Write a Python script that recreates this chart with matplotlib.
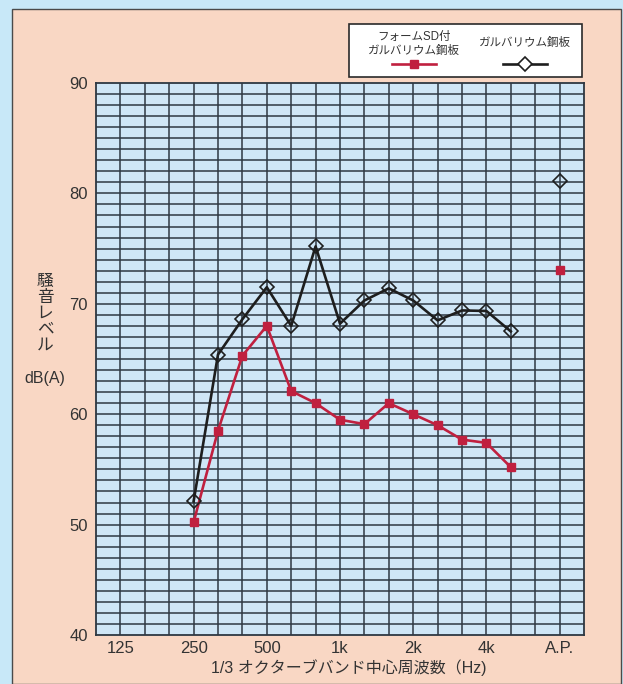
import matplotlib
matplotlib.use("Agg")
import matplotlib.pyplot as plt
from matplotlib.patches import Rectangle
from matplotlib.lines import Line2D

plt.rcParams['font.family'] = ['Liberation Sans', 'Noto Sans CJK JP', 'DejaVu Sans']

# 1/3 octave bands (100 Hz at left edge), A.P. = overall level
bands = ['100', '125', '160', '200', '250', '315', '400', '500', '630', '800',
         '1k', '1.25k', '1.6k', '2k', '2.5k', '3.15k', '4k', '5k', '6.3k', 'A.P.']
tick_labels = ['125', '250', '500', '1k', '2k', '4k', 'A.P.']

series_bands = ['250', '315', '400', '500', '630', '800', '1k', '1.25k',
                '1.6k', '2k', '2.5k', '3.15k', '4k', '5k']
foam_sd = [50.2, 58.5, 65.3, 68.0, 62.1, 61.0, 59.5, 59.1,
           61.0, 60.0, 59.0, 57.7, 57.4, 55.2]
galvalume = [52.1, 65.4, 68.6, 71.5, 68.0, 75.2, 68.2, 70.3,
             71.4, 70.3, 68.5, 69.4, 69.35, 67.5]
foam_sd_ap = 73.1
galvalume_ap = 81.1

labels = ['フォームSD付\nガルバリウム鋼板', 'ガルバリウム鋼板']

RED = '#c0203f'
BLACK = '#1e1e1e'
GRID = '#2e3842'
TXT = '#333333'

W, H = 623, 684
fig = plt.figure(figsize=(W / 100, H / 100), dpi=100)
fig.patch.set_facecolor('#c8e8f8')

# salmon panel
fig.patches.append(Rectangle((12 / W, 0), (621 - 12) / W, 1 - 9 / H,
                             transform=fig.transFigure, facecolor='#f9d7c4',
                             edgecolor='#4a4a4a', linewidth=1.0, zorder=-1))

ax = fig.add_axes([96 / W, 1 - 635 / H, 488 / W, 552 / H])
ax.set_zorder(1)
ax.set_facecolor('#cfe6f6')

pos = {b: i for i, b in enumerate(bands)}
xs = [pos[b] for b in series_bands]

ax.plot(xs, foam_sd, color=RED, lw=1.9, marker='s', ms=6, mec=RED, mfc=RED, zorder=4)
ax.plot([pos['A.P.']], [foam_sd_ap], ls='none', marker='s', ms=6, color=RED, zorder=4)
ax.plot(xs, galvalume, color=BLACK, lw=1.9, marker='D', ms=7.3, mec=BLACK,
        mfc='none', mew=1.2, zorder=5)
ax.plot([pos['A.P.']], [galvalume_ap], ls='none', marker='D', ms=7.3, mec=BLACK,
        mfc='none', mew=1.2, zorder=5)

ax.set_xlim(0, len(bands))
ax.set_ylim(40, 90)

# grid: every band and every 1 dB
for i in range(1, len(bands)):
    ax.axvline(i, color=GRID, lw=1.1, zorder=1)
for v in range(41, 90):
    ax.axhline(v, color=GRID, lw=1.1, zorder=1)

ax.set_xticks([pos[t] for t in tick_labels])
ax.set_xticklabels(tick_labels, fontsize=12, color=TXT)
ax.set_yticks(range(40, 91, 10))
ax.set_yticklabels([str(v) for v in range(40, 91, 10)], fontsize=12, color=TXT)
ax.tick_params(length=0, pad=6)
ax.tick_params(axis='x', pad=4)
for s in ax.spines.values():
    s.set_color(GRID)
    s.set_linewidth(1.3)

fig.text((206 + 492) / 2 / W, 1 - 668 / H, '1/3 オクターブバンド中心周波数（Hz)',
         ha='center', va='center', fontsize=11.5, color=TXT)

fig.text(45 / W, 1 - 313 / H, '\n'.join('騒音レベル'), ha='center', va='center',
         fontsize=12, color=TXT, linespacing=1.08)
fig.text(45 / W, 1 - 378 / H, 'dB(A)', ha='center', va='center', fontsize=11.5, color=TXT)

# legend box
fig.patches.append(Rectangle((349 / W, 1 - 77 / H), (582 - 349) / W, (77 - 24) / H,
                             transform=fig.transFigure, facecolor='white',
                             edgecolor='#2a2a2a', linewidth=1.2, zorder=2))
fig.text(414 / W, 1 - 44 / H, labels[0], ha='center', va='center', fontsize=8.3,
         color=TXT, linespacing=1.15, zorder=3)
fig.text(525 / W, 1 - 43 / H, labels[1], ha='center', va='center', fontsize=8.3,
         color=TXT, zorder=3)
fig.lines.append(Line2D([392 / W, 414 / W, 436 / W], [1 - 64 / H] * 3,
                        transform=fig.transFigure, color=RED, lw=1.9,
                        marker='s', ms=6, markevery=[1], zorder=3))
fig.lines.append(Line2D([503 / W, 525 / W, 547 / W], [1 - 64 / H] * 3,
                        transform=fig.transFigure, color=BLACK, lw=1.9,
                        marker='D', ms=7.3, mfc='white', mew=1.2, markevery=[1], zorder=3))

fig.savefig('out.png', dpi=100, facecolor=fig.get_facecolor())
